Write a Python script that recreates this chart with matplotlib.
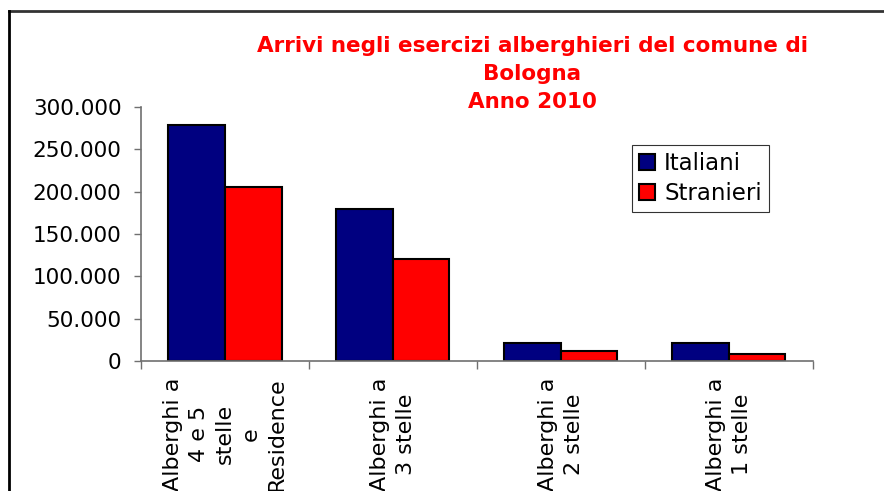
import matplotlib
matplotlib.use('Agg')
import matplotlib.pyplot as plt
from matplotlib.lines import Line2D
from matplotlib.ticker import FuncFormatter, FixedLocator
import numpy as np

# data
categories = ['Alberghi a\n4 e 5\nstelle\ne\nResidence',
              'Alberghi a\n3 stelle',
              'Alberghi a\n2 stelle',
              'Alberghi a\n1 stelle']
italiani = [279000, 180000, 21500, 21500]
stranieri = [205500, 120500, 11500, 8000]
series_names = ['Italiani', 'Stranieri']
title = 'Arrivi negli esercizi alberghieri del comune di\nBologna\nAnno 2010'

plt.rcParams['font.family'] = 'DejaVu Sans'

fig = plt.figure(figsize=(8.84, 4.91), dpi=100)
ax = fig.add_axes([0.1595, 0.2648, 0.9193 - 0.1595, 0.782 - 0.2648])

x = np.arange(len(categories))
w = 0.337
ax.bar(x - w / 2, italiani, w, color='#000080', edgecolor='black', linewidth=1.5, label=series_names[0])
ax.bar(x + w / 2, stranieri, w, color='#FF0000', edgecolor='black', linewidth=1.5, label=series_names[1])

ax.set_xlim(-0.5, len(categories) - 0.5)
ax.set_ylim(0, 300000)
ax.set_yticks(np.arange(0, 300001, 50000))
ax.yaxis.set_major_formatter(FuncFormatter(lambda v, p: f'{int(v):,}'.replace(',', '.')))

# category labels in the middle, ticks between the groups
ax.xaxis.set_major_locator(FixedLocator(np.arange(-0.5, len(categories), 1.0)))
ax.set_xticklabels([])
ax.tick_params(axis='x', length=6, color='#707070', width=1)
ax.tick_params(axis='y', length=5, color='#707070', width=1, labelsize=15.5, pad=9)
for i, c in enumerate(categories):
    ax.text(i, -0.065, c, transform=ax.get_xaxis_transform(), rotation=90,
            ha='center', va='top', multialignment='center', fontsize=16, linespacing=1.38)

for s in ['top', 'right']:
    ax.spines[s].set_visible(False)
for s in ['left', 'bottom']:
    ax.spines[s].set_color('#707070')
    ax.spines[s].set_linewidth(1.2)

fig.text(0.602, 0.927, title, color='red', fontsize=15.5, fontweight='bold',
         ha='center', va='top', linespacing=1.5)

leg = ax.legend(loc='upper left', bbox_to_anchor=(632 / 884, 1 - 145 / 491),
                bbox_transform=fig.transFigure, fontsize=16.5, frameon=True, fancybox=False,
                handlelength=0.7, handleheight=0.7, handletextpad=0.4, borderpad=0.3,
                labelspacing=0.3, borderaxespad=0)
leg.get_frame().set_edgecolor('black')
leg.get_frame().set_linewidth(0.8)

# page frame
fig.add_artist(Line2D([9 / 884, 1], [1 - 11 / 491, 1 - 11 / 491], color='#333333', lw=2))
fig.add_artist(Line2D([9 / 884, 9 / 884], [0, 1 - 11 / 491], color='black', lw=2))

fig.savefig('out.png', dpi=100)
